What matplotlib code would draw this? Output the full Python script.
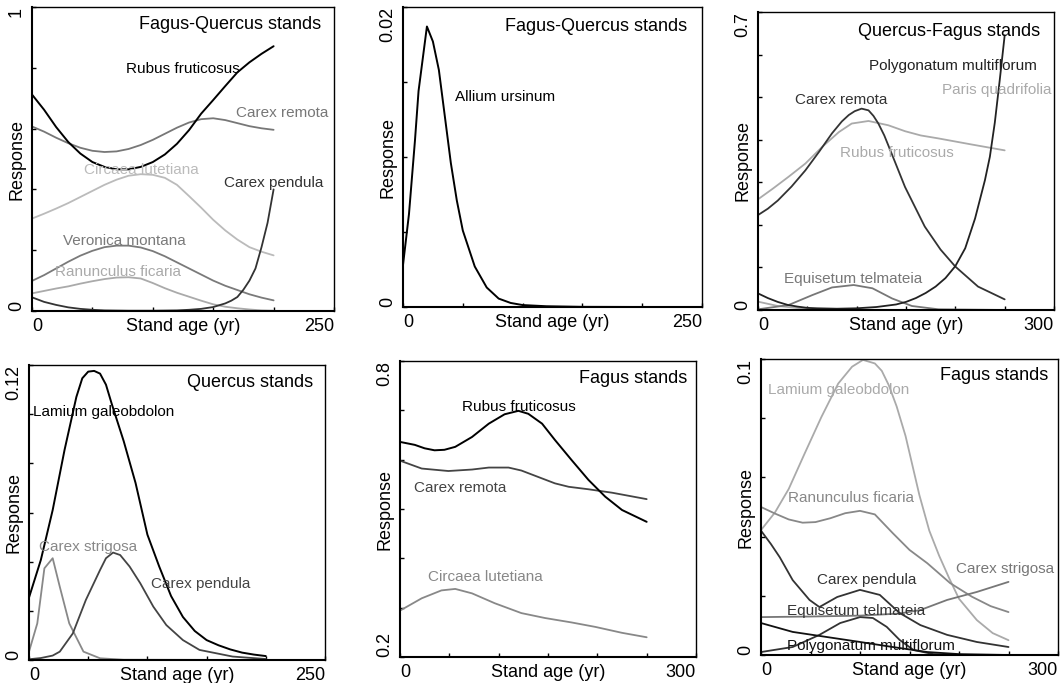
#!/usr/bin/env python3
"""Species response curves along stand age, six panels (2 x 3)."""
import matplotlib

matplotlib.use("Agg")
import matplotlib.pyplot as plt
import numpy as np

plt.rcParams["font.family"] = ["Liberation Sans", "DejaVu Sans"]

# ---- panel 1: Fagus-Quercus stands -------------------------------------
fq_age = [0, 10, 20, 30, 40, 50, 60, 70, 80, 90, 100, 110, 120, 130, 140, 150, 160, 170, 180, 190, 200]
fq_rubus = [0.712, 0.662, 0.605, 0.556, 0.518, 0.49, 0.474, 0.466, 0.466, 0.474, 0.49,
            0.515, 0.55, 0.595, 0.649, 0.694, 0.74, 0.785, 0.818, 0.846, 0.871]
fq_remota = [0.607, 0.590, 0.570, 0.552, 0.537, 0.527, 0.523, 0.525, 0.533, 0.546, 0.563,
             0.583, 0.603, 0.62, 0.631, 0.634, 0.628, 0.618, 0.608, 0.601, 0.596]
fq_circaea = [0.304, 0.32, 0.337, 0.355, 0.375, 0.395, 0.415, 0.432, 0.445, 0.45, 0.448,
              0.438, 0.415, 0.378, 0.34, 0.30, 0.265, 0.235, 0.21, 0.195, 0.183]
fq_veronica = [0.099, 0.118, 0.14, 0.162, 0.182, 0.198, 0.21, 0.215, 0.215, 0.209, 0.197,
               0.18, 0.16, 0.14, 0.12, 0.1, 0.083, 0.069, 0.055, 0.044, 0.035]
fq_ranunculus = [0.058, 0.066, 0.074, 0.081, 0.09, 0.098, 0.105, 0.11, 0.111, 0.107, 0.092,
                 0.075, 0.06, 0.047, 0.034, 0.022, 0.014, 0.009, 0.005, 0.002, 0.001]
fq_pendula_age = [0, 10, 20, 30, 40, 50, 60, 80, 100, 120, 130, 140, 150, 160, 165, 170, 175,
                  180, 185, 190, 195, 200]
fq_pendula = [0.045, 0.03, 0.02, 0.012, 0.007, 0.004, 0.002, 0.001, 0.001, 0.002, 0.004,
              0.007, 0.013, 0.025, 0.034, 0.046, 0.07, 0.1, 0.14, 0.21, 0.29, 0.40]

# ---- panel 2: Fagus-Quercus stands, Allium ------------------------------
al_age = [0, 5, 10, 13, 20, 25, 30, 35, 40, 45, 50, 60, 70, 80, 90, 100, 120, 150, 200]
al_allium = [0.0028, 0.0062, 0.0111, 0.0144, 0.0187, 0.0177, 0.0158, 0.0127, 0.0096, 0.0071,
             0.0051, 0.0027, 0.0013, 0.00056, 0.00027, 0.00013, 0.00005, 0.00001, 0.0]

# ---- panel 3: Quercus-Fagus stands --------------------------------------
qf_poly_age = [0, 10, 20, 30, 40, 50, 60, 80, 100, 120, 140, 150, 160, 170, 180, 190, 200,
               210, 220, 230, 235, 240, 245, 250]
qf_poly = [0.039, 0.028, 0.019, 0.012, 0.008, 0.005, 0.004, 0.003, 0.004, 0.007, 0.013, 0.019,
           0.028, 0.04, 0.055, 0.075, 0.103, 0.145, 0.215, 0.305, 0.36, 0.44, 0.54, 0.645]
qf_remota_age = [0, 10, 20, 34, 48, 62, 75, 85, 92, 98, 105, 112, 117, 122, 128, 135, 149,
                 169, 185, 200, 223, 250]
qf_remota = [0.223, 0.238, 0.257, 0.29, 0.328, 0.372, 0.415, 0.443, 0.458, 0.467, 0.473,
             0.469, 0.456, 0.438, 0.41, 0.37, 0.289, 0.196, 0.142, 0.102, 0.055, 0.025]
qf_rubus_age = [0, 15, 31, 48, 65, 82, 95, 112, 132, 149, 165, 183, 216, 250]
qf_rubus = [0.26, 0.285, 0.313, 0.344, 0.383, 0.418, 0.438, 0.444, 0.434, 0.42, 0.41, 0.403,
            0.389, 0.375]
qf_paris_age = [0, 20, 48, 82, 150, 250]
qf_paris = [0.0196, 0.0094, 0.003, 0.001, 0.0, 0.0]
qf_equis_age = [0, 31, 55, 75, 97, 116, 136, 156, 183, 250]
qf_equis = [0.0016, 0.0117, 0.035, 0.053, 0.0587, 0.051, 0.027, 0.0094, 0.0016, 0.0]

# ---- panel 4: Quercus stands --------------------------------------------
q_lamium_age = [0, 10, 20, 30, 40, 45, 50, 55, 60, 65, 70, 80, 90, 100, 110, 120, 130, 140,
                150, 160, 170, 180, 190, 200]
q_lamium = [0.0254, 0.0407, 0.061, 0.0854, 0.107, 0.1146, 0.1173, 0.1176, 0.1165, 0.112,
            0.104, 0.089, 0.072, 0.051, 0.038, 0.026, 0.0175, 0.0118, 0.0081, 0.006, 0.0043,
            0.003, 0.0022, 0.0016]
q_strigosa_age = [0, 7, 13, 20, 26, 34, 46, 60, 80, 200]
q_strigosa = [0.0034, 0.0149, 0.0373, 0.0414, 0.0298, 0.0149, 0.0034, 0.0007, 0.0001, 0.0]
q_pendula_age = [0, 10, 20, 26, 37, 48, 60, 65, 71, 77, 85, 94, 105, 116, 130, 144, 172, 200]
q_pendula = [0.0003, 0.0008, 0.0018, 0.0034, 0.0108, 0.0244, 0.0366, 0.0414, 0.0437, 0.0427,
             0.038, 0.0312, 0.0217, 0.0142, 0.0081, 0.0041, 0.0014, 0.0004]

# ---- panel 5: Fagus stands ----------------------------------------------
f_rubus_age = [0, 15, 25, 35, 45, 56, 73, 90, 106, 120, 130, 144, 157, 174, 191, 208, 225, 250]
f_rubus = [0.636, 0.630, 0.623, 0.619, 0.62, 0.626, 0.646, 0.673, 0.692, 0.699, 0.693, 0.673,
           0.640, 0.599, 0.559, 0.525, 0.498, 0.474]
f_remota_age = [0, 22, 49, 73, 90, 110, 123, 140, 157, 171, 191, 215, 250]
f_remota = [0.598, 0.582, 0.577, 0.580, 0.584, 0.584, 0.578, 0.565, 0.552, 0.545, 0.540,
            0.533, 0.520]
f_circaea_age = [0, 22, 42, 56, 73, 96, 123, 147, 174, 198, 225, 250]
f_circaea = [0.294, 0.319, 0.335, 0.338, 0.329, 0.309, 0.289, 0.279, 0.270, 0.261, 0.249, 0.240]

# ---- panel 6: Fagus stands ----------------------------------------------
f6_lamium_age = [0, 14, 28, 44, 61, 78, 92, 103, 115, 122, 129, 137, 146, 160, 170, 180, 190,
                 200, 218, 234, 250]
f6_lamium = [0.0422, 0.0481, 0.0561, 0.068, 0.0804, 0.0917, 0.0974, 0.0997, 0.0985, 0.096,
             0.0912, 0.084, 0.074, 0.054, 0.042, 0.0335, 0.026, 0.019, 0.0118, 0.0074, 0.005]
f6_ranunc_age = [0, 14, 28, 42, 55, 70, 85, 100, 115, 133, 150, 168, 191, 213, 232, 250]
f6_ranunc = [0.050, 0.0478, 0.0458, 0.0447, 0.0449, 0.0462, 0.0479, 0.0487, 0.0475, 0.0412,
             0.0355, 0.031, 0.0243, 0.0197, 0.0165, 0.0145]
f6_pendula_age = [0, 10, 19, 32, 49, 59, 77, 100, 120, 140, 161, 188, 218, 250]
f6_pendula = [0.042, 0.0375, 0.033, 0.0253, 0.0186, 0.0162, 0.0196, 0.022, 0.0203, 0.0142,
              0.0101, 0.0068, 0.0044, 0.0027]
f6_strigosa_age = [0, 50, 100, 140, 161, 188, 218, 250]
f6_strigosa = [0.0128, 0.013, 0.0133, 0.014, 0.0152, 0.0186, 0.0213, 0.0247]
f6_equis_age = [0, 32, 59, 80, 100, 113, 127, 140, 154, 174, 200, 250]
f6_equis = [0.001, 0.0027, 0.0068, 0.0108, 0.0128, 0.0125, 0.0095, 0.0051, 0.0017, 0.0003, 0.0, 0.0]
f6_poly_age = [0, 32, 66, 100, 133, 168, 200, 250]
f6_poly = [0.0108, 0.0078, 0.0061, 0.0044, 0.0027, 0.001, 0.0003, 0.0]

W, H = 1061, 683
fig = plt.figure(figsize=(W / 100, H / 100), dpi=100)


def make_axes(left, top, right, bottom):
    return fig.add_axes([left / W, 1 - bottom / H, (right - left) / W, (bottom - top) / H])


def style(ax, xmax, ylim, ystep, ylabels, title, title_xy):
    ax.set_xlim(0, xmax)
    ax.set_ylim(*ylim)
    xt = np.arange(0, xmax + 1, 50)
    ax.set_xticks(xt)
    ax.set_xticklabels(["0"] + [""] * (len(xt) - 2) + [str(xmax)])
    nt = int(round((ylim[1] - ylim[0]) / ystep))
    yt = np.linspace(ylim[0], ylim[1], nt + 1)
    ax.set_yticks(yt)
    ax.set_yticklabels([ylabels[0]] + [""] * (nt - 1) + [ylabels[1]], rotation=90)
    ax.tick_params(direction="in", length=3, width=1, pad=5, labelsize=13)
    xl = ax.get_xticklabels()
    xl[0].set_ha("left")
    xl[-1].set_ha("right")
    yl = ax.get_yticklabels()
    yl[0].set_va("bottom")
    yl[-1].set_va("top")
    for side in ("left", "bottom"):
        ax.spines[side].set_linewidth(1.5)
    for side in ("top", "right"):
        ax.spines[side].set_linewidth(1.0)
    ax.annotate("Stand age (yr)", xy=(0.5, 0), xycoords="axes fraction", xytext=(0, -5),
                textcoords="offset points", ha="center", va="top", fontsize=13)
    ax.annotate("Response", xy=(0, 0.5), xycoords="axes fraction", xytext=(-5, 0),
                textcoords="offset points", ha="right", va="center", rotation=90, fontsize=13)
    ax.text(title_xy[0], title_xy[1], title, transform=ax.transAxes, ha="right", va="center",
            fontsize=13)


def curve(ax, x, y, color, label=None, label_xy=None, lw=1.3):
    ax.plot(x, y, color=color, linewidth=lw, solid_capstyle="round", solid_joinstyle="round")
    if label:
        ax.text(label_xy[0], label_xy[1], label, color=color, fontsize=11, ha="left", va="center")


# panel 1
ax = make_axes(32, 7, 334, 311)
style(ax, 250, (0, 1), 0.2, ("0", "1"), "Fagus-Quercus stands", (0.958, 0.943))
curve(ax, fq_age, fq_remota, "#777777", "Carex remota", (169, 0.652))
curve(ax, fq_age, fq_circaea, "#bbbbbb", "Circaea lutetiana", (43, 0.463))
curve(ax, fq_age, fq_veronica, "#7a7a7a", "Veronica montana", (26, 0.23))
curve(ax, fq_age, fq_ranunculus, "#aaaaaa", "Ranunculus ficaria", (19, 0.128))
curve(ax, fq_pendula_age, fq_pendula, "#333333", "Carex pendula", (158.7, 0.421))
curve(ax, fq_age, fq_rubus, "#000000", "Rubus fruticosus", (77.7, 0.797), lw=1.4)

# panel 2
ax = make_axes(403, 7, 702, 307)
style(ax, 250, (0, 0.02), 0.005, ("0", "0.02"), "Fagus-Quercus stands", (0.95, 0.936))
curve(ax, al_age, al_allium, "#000000", "Allium ursinum", (43.3, 0.014), lw=1.4)

# panel 3
ax = make_axes(758, 12, 1054, 310)
style(ax, 300, (0, 0.7), 0.1, ("0", "0.7"), "Quercus-Fagus stands", (0.952, 0.933))
curve(ax, qf_paris_age, qf_paris, "#aaaaaa", "Paris quadrifolia", (186, 0.516))
curve(ax, qf_rubus_age, qf_rubus, "#aaaaaa", "Rubus fruticosus", (83, 0.369))
curve(ax, qf_equis_age, qf_equis, "#777777", "Equisetum telmateia", (26, 0.072))
curve(ax, qf_remota_age, qf_remota, "#333333", "Carex remota", (37.8, 0.494))
curve(ax, qf_poly_age, qf_poly, "#222222", "Polygonatum multiflorum", (112, 0.573))

# panel 4
ax = make_axes(29, 365, 325, 660)
style(ax, 250, (0, 0.12), 0.02, ("0", "0.12"), "Quercus stands", (0.96, 0.94))
curve(ax, q_strigosa_age, q_strigosa, "#888888", "Carex strigosa", (8.5, 0.0461))
curve(ax, q_pendula_age, q_pendula, "#444444", "Carex pendula", (103.4, 0.0308))
curve(ax, q_lamium_age, q_lamium, "#000000", "Lamium galeobdolon", (3.4, 0.101), lw=1.4)

# panel 5
ax = make_axes(400, 361, 696, 657)
style(ax, 300, (0.2, 0.8), 0.1, ("0.2", "0.8"), "Fagus stands", (0.97, 0.94))
curve(ax, f_circaea_age, f_circaea, "#888888", "Circaea lutetiana", (28, 0.363))
curve(ax, f_remota_age, f_remota, "#444444", "Carex remota", (14.5, 0.542))
curve(ax, f_rubus_age, f_rubus, "#000000", "Rubus fruticosus", (62.6, 0.707), lw=1.4)

# panel 6
ax = make_axes(761, 359, 1058, 655)
style(ax, 300, (0, 0.1), 0.02, ("0", "0.1"), "Fagus stands", (0.966, 0.943))
curve(ax, f6_lamium_age, f6_lamium, "#aaaaaa", "Lamium galeobdolon", (7.4, 0.0895))
curve(ax, f6_ranunc_age, f6_ranunc, "#888888", "Ranunculus ficaria", (27.6, 0.0529))
curve(ax, f6_strigosa_age, f6_strigosa, "#777777", "Carex strigosa", (196.9, 0.0289))
curve(ax, f6_pendula_age, f6_pendula, "#333333", "Carex pendula", (56.3, 0.0253))
curve(ax, f6_equis_age, f6_equis, "#333333", "Equisetum telmateia", (26, 0.0147))
curve(ax, f6_poly_age, f6_poly, "#111111", "Polygonatum multiflorum", (26, 0.0031))

fig.savefig("out.png", dpi=100)
plt.close(fig)
